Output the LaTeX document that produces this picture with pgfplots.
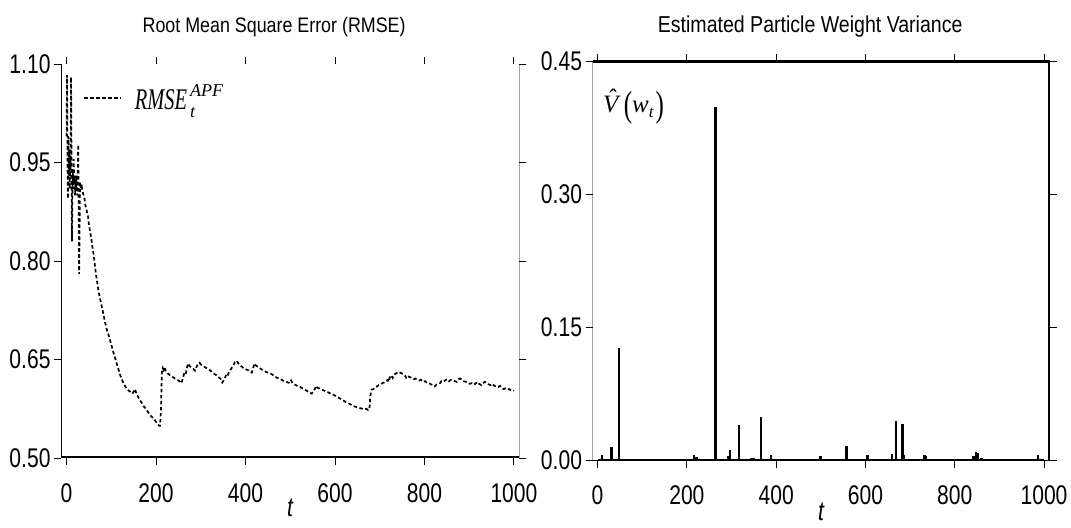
\documentclass[border=0pt]{standalone}
\usepackage{graphicx}
\usepackage{fontspec}
\usepackage{pgfplots}
\pgfplotsset{compat=1.18}
\setmainfont{Liberation Sans}
\newfontfamily\tl[FakeStretch=0.78]{Liberation Sans}
\newfontfamily\ttl[FakeStretch=0.85]{Liberation Sans}
\newfontfamily\tmsn[FakeStretch=0.68]{Liberation Serif}
\newfontfamily\tmsw{Liberation Serif}
\begin{document}
\begin{tikzpicture}
\path[use as bounding box] (0bp,0bp) rectangle (1071bp,528bp);
\pgfplotsset{
  every axis/.append style={
    scale only axis, anchor=south west,
    axis line style={draw=none},
    tick align=outside, tick pos=both, major tick length=7bp,
    tick style={black, line width=0.9bp},
    xtick={0,200,400,600,800,1000},
    /pgf/number format/assume math mode=true,
    /pgf/number format/1000 sep={},
    ticklabel style={font=\tl\fontsize{27bp}{27bp}\selectfont},
    xticklabel style={yshift=-15bp},
    yticklabel style={/pgf/number format/.cd, fixed, fixed zerofill, precision=2},
    title style={font=\ttl\fontsize{21bp}{21bp}\selectfont, anchor=base},
    xlabel style={font=\tl\itshape\fontsize{27bp}{27bp}\selectfont, anchor=base},
  }
}
% ---------------- left panel
\begin{axis}[
  at={(61bp,70bp)}, width=458.3bp, height=394bp,
  xmin=-12.5, xmax=1012, ymin=0.5, ymax=1.1,
  ytick={0.5,0.65,0.8,0.95,1.1},
  title={Root Mean Square Error (RMSE)},
  title style={at={(0.465,1)}, yshift=26bp},
  xlabel={t},
  xlabel style={at={(0.5,0)}, yshift=-58bp},
  legend style={draw=none, fill=none, at={(0.048,0.947)}, anchor=north west,
    inner sep=0pt, nodes={inner sep=0pt}},
  legend image code/.code={\draw[#1] (0bp,0bp) -- (37bp,0bp);},
]
\addplot[black, line width=1.7bp, dash pattern=on 3.5bp off 2.5bp] coordinates {
(0,0.99) (1,1.083) (2,0.95) (3,0.895) (4,0.99) (5,0.93) (6,0.97) (7,0.91) (8,0.96) (9,0.94)
(10,1.08) (11,0.95) (12,0.83) (13,0.90) (14,0.94) (15,0.91) (16,0.955) (17,0.92) (18,0.93) (19,0.90)
(20,0.925) (21,0.91) (22,0.93) (24,0.90) (26,0.977) (28,0.78) (29,0.84) (30,0.92) (32,0.91) (34,0.913)
(36,0.905) (38,0.90) (40,0.895) (42,0.885) (44,0.88) (46,0.873) (48,0.868) (50,0.855) (52,0.847) (55,0.835)
(58,0.82) (60,0.812) (63,0.795) (66,0.778) (69,0.765) (71,0.756) (74,0.745) (78,0.733) (82,0.720) (86,0.707)
(90,0.695) (94,0.687) (97,0.680) (101,0.670) (105,0.660) (109,0.651) (112,0.644) (116,0.635) (120,0.626) (124,0.619)
(127,0.614) (132,0.608) (136,0.604) (140,0.602) (144,0.600) (147,0.598) (150,0.601) (153,0.605) (156,0.598) (160,0.593)
(164,0.588) (168,0.584) (172,0.579) (176,0.576) (179,0.573) (183,0.569) (187,0.565) (190,0.563) (194,0.560) (198,0.557)
(201,0.554) (204,0.552) (207,0.549) (209,0.549) (211,0.575) (213,0.63) (215,0.637) (217,0.634) (219,0.638) (222,0.632)
(226,0.629) (231,0.626) (236,0.624) (240,0.622) (245,0.620) (250,0.618) (254,0.616) (257,0.614) (260,0.622) (263,0.629)
(266,0.627) (269,0.638) (272,0.644) (275,0.640) (279,0.638) (283,0.636) (287,0.633) (290,0.638) (293,0.642) (297,0.645)
(301,0.642) (305,0.640) (310,0.638) (315,0.636) (320,0.634) (325,0.631) (330,0.628) (335,0.626) (340,0.623) (345,0.620)
(348,0.615) (350,0.617) (354,0.622) (357,0.627) (360,0.625) (363,0.631) (366,0.634) (370,0.638) (373,0.641) (376,0.646)
(380,0.648) (384,0.644) (388,0.641) (392,0.639) (395,0.637) (400,0.635) (405,0.634) (410,0.631) (414,0.630) (417,0.637)
(420,0.644) (423,0.641) (427,0.639) (431,0.637) (436,0.635) (441,0.633) (446,0.631) (450,0.630) (455,0.629) (460,0.627)
(466,0.624) (471,0.622) (476,0.621) (481,0.619) (486,0.617) (491,0.616) (495,0.615) (499,0.614) (502,0.618) (505,0.614)
(510,0.612) (515,0.610) (520,0.609) (525,0.607) (530,0.605) (535,0.603) (540,0.601) (545,0.599) (548,0.598) (551,0.601)
(555,0.605) (558,0.610) (561,0.607) (565,0.606) (570,0.604) (575,0.603) (580,0.601) (585,0.600) (590,0.598) (595,0.597)
(600,0.595) (605,0.593) (610,0.591) (615,0.589) (620,0.587) (626,0.584) (631,0.583) (636,0.581) (641,0.579) (646,0.578)
(651,0.577) (656,0.576) (661,0.575) (665,0.574) (670,0.575) (674,0.573) (677,0.575) (679,0.595) (682,0.604) (686,0.605)
(690,0.608) (694,0.609) (698,0.611) (702,0.612) (706,0.614) (710,0.615) (714,0.617) (718,0.619) (720,0.616) (722,0.622)
(726,0.626) (729,0.622) (732,0.627) (737,0.629) (741,0.631) (745,0.630) (749,0.629) (753,0.627) (757,0.625) (760,0.621)
(764,0.624) (768,0.623) (772,0.622) (776,0.620) (780,0.621) (784,0.619) (788,0.618) (792,0.619) (797,0.616) (801,0.617)
(805,0.615) (810,0.614) (815,0.612) (819,0.611) (823,0.609) (827,0.612) (831,0.613) (835,0.614) (838,0.617) (842,0.616)
(846,0.618) (850,0.620) (855,0.617) (859,0.619) (863,0.618) (868,0.617) (872,0.616) (876,0.620) (880,0.621) (884,0.619)
(888,0.617) (892,0.616) (897,0.615) (901,0.613) (906,0.614) (910,0.612) (914,0.613) (918,0.616) (922,0.613) (927,0.611)
(931,0.614) (935,0.616) (939,0.614) (944,0.612) (948,0.611) (952,0.613) (956,0.610) (960,0.609) (965,0.608) (969,0.610)
(973,0.607) (977,0.605) (981,0.606) (985,0.604) (989,0.605) (993,0.603) (997,0.602) (1000,0.603)
};
\addlegendentry{\hspace{13bp}{\tmsn\itshape\fontsize{30bp}{30bp}\selectfont RMSE}\kern3bp\raisebox{-8bp}{\tmsw\itshape\fontsize{18bp}{18bp}\selectfont t}\kern-5bp\raisebox{13bp}{\tmsw\itshape\fontsize{18bp}{18bp}\selectfont APF}}
\draw[black, line width=1.2bp] (rel axis cs:0,0) -- (rel axis cs:0,1);
\draw[black, line width=1.5bp] (rel axis cs:1,0) -- (rel axis cs:1,1);
\draw[black, line width=4bp] (rel axis cs:0,0) -- (rel axis cs:1,0);
\end{axis}
% ---------------- right panel
\begin{axis}[
  at={(592.5bp,67.4bp)}, width=457.3bp, height=399.6bp,
  xmin=-11.4, xmax=1013, ymin=0, ymax=0.45,
  ytick={0,0.15,0.3,0.45},
  title={Estimated Particle Weight Variance},
  title style={at={(0.476,1)}, yshift=23bp, font=\ttl\fontsize{23bp}{23bp}\selectfont},
  xlabel={t},
  xlabel style={at={(0.5,0)}, yshift=-60bp},
]
\addplot[black, line width=1.2bp] coordinates {
(0,0.0008) (100,0.0008) (200,0.0008) (300,0.0008) (400,0.0008) (500,0.0008) (600,0.0008) (700,0.0008) (800,0.0008) (900,0.0008) (1000,0.0008)
};
\addplot[black, ycomb, line width=2.4bp] coordinates {
(10,0.006) (31,0.015) (48,0.127) (216,0.006) (222,0.004) (264,0.398) (293,0.005) (296,0.012) (317,0.040)
(345,0.003) (350,0.003) (366,0.049) (389,0.006) (499,0.005) (558,0.017) (605,0.006) (660,0.007) (668,0.0446)
(683,0.0416) (686,0.006) (732,0.006) (736,0.005) (842,0.005) (848,0.010) (852,0.008) (860,0.003) (986,0.006)
};
\node[anchor=base west, inner sep=0pt] at (rel axis cs:0.023,0.872)
  {\tmsw\itshape\fontsize{25bp}{25bp}\selectfont V\kern-11bp\raisebox{6bp}{ˆ}\kern8bp\raisebox{-4bp}{\scalebox{1}[1.45]{\upshape(}}w\raisebox{-5bp}{\fontsize{17bp}{17bp}\selectfont t}\kern2bp\raisebox{-4bp}{\scalebox{1}[1.45]{\upshape)}}};
\draw[black, line width=1.2bp] (rel axis cs:0,0) -- (rel axis cs:0,1);
\draw[black, line width=3bp] (rel axis cs:1,0) -- (rel axis cs:1,1);
\draw[black, line width=4bp] (rel axis cs:0,1) -- (rel axis cs:1,1);
\draw[black, line width=1.5bp] ([xshift=-5bp]rel axis cs:0,0) -- ([xshift=5bp]rel axis cs:1,0);
\end{axis}
\end{tikzpicture}
\end{document}
